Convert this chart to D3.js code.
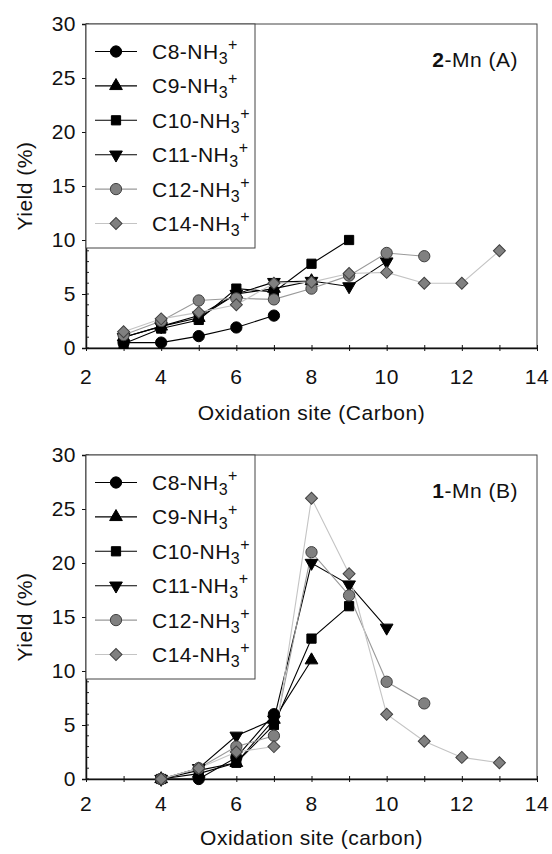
<!DOCTYPE html>
<html>
<head>
<meta charset="utf-8">
<script src="https://cdn.jsdelivr.net/npm/d3@7"></script>
<style>
  html, body { margin: 0; padding: 0; background: #fff; }
  svg { display: block; }
  text { font-family: "Liberation Sans", Arial, sans-serif; fill: #111; letter-spacing: 0.5px; }
</style>
</head>
<body>
<svg id="chart" width="552" height="854"></svg>
<script>
// ---------- data ----------
const seriesNames = ["C8", "C9", "C10", "C11", "C12", "C14"];
const xTicks = [2, 4, 6, 8, 10, 12, 14];
const yTicks = [0, 5, 10, 15, 20, 25, 30];

// Panel A: 2-Mn
const siteA_C8  = [3, 4, 5, 6, 7];
const yieldA_C8 = [0.5, 0.5, 1.1, 1.9, 3.0];
const siteA_C9  = [3, 4, 5, 6, 7, 8];
const yieldA_C9 = [1.0, 2.0, 2.8, 5.0, 5.5, 6.2];
const siteA_C10  = [3, 4, 5, 6, 7, 8, 9];
const yieldA_C10 = [0.4, 1.8, 2.6, 5.5, 5.2, 7.8, 10.0];
const siteA_C11  = [3, 4, 5, 6, 7, 8, 9, 10];
const yieldA_C11 = [1.0, 2.0, 3.0, 5.0, 6.1, 6.2, 5.7, 8.0];
const siteA_C12  = [3, 4, 5, 6, 7, 8, 9, 10, 11];
const yieldA_C12 = [1.2, 2.5, 4.4, 4.6, 4.5, 5.5, 6.7, 8.8, 8.5];
const siteA_C14  = [3, 4, 5, 6, 7, 8, 9, 10, 11, 12, 13];
const yieldA_C14 = [1.5, 2.7, 3.3, 4.0, 6.0, 6.1, 6.9, 7.0, 6.0, 6.0, 9.0];

// Panel B: 1-Mn
const siteB_C8  = [4, 5, 6, 7];
const yieldB_C8 = [0, 0, 2.0, 6.0];
const siteB_C9  = [4, 5, 6, 7, 8];
const yieldB_C9 = [0, 0.5, 1.5, 5.5, 11.0];
const siteB_C10  = [4, 5, 6, 7, 8, 9];
const yieldB_C10 = [0, 0.8, 1.5, 5.0, 13.0, 16.0];
const siteB_C11  = [4, 5, 6, 7, 8, 9, 10];
const yieldB_C11 = [0, 1.0, 4.0, 5.5, 20.0, 18.0, 14.0];
const siteB_C12  = [4, 5, 6, 7, 8, 9, 10, 11];
const yieldB_C12 = [0, 1.0, 3.0, 4.0, 21.0, 17.0, 9.0, 7.0];
const siteB_C14  = [4, 5, 6, 7, 8, 9, 10, 11, 12, 13];
const yieldB_C14 = [0, 1.0, 2.5, 3.0, 26.0, 19.0, 6.0, 3.5, 2.0, 1.5];

// ---------- styles ----------
const styles = {
  C8:  { symbol: d3.symbolCircle,   size: 100, fill: "#000",    stroke: "#000",    line: "#000",    rot: 0 },
  C9:  { symbol: d3.symbolTriangle, size: 70,  fill: "#000",    stroke: "#000",    line: "#000",    rot: 0 },
  C10: { symbol: d3.symbolSquare,   size: 85,  fill: "#000",    stroke: "#000",    line: "#000",    rot: 0 },
  C11: { symbol: d3.symbolTriangle, size: 70,  fill: "#000",    stroke: "#000",    line: "#000",    rot: 180 },
  C12: { symbol: d3.symbolCircle,   size: 100, fill: "#808080", stroke: "#404040", line: "#9a9a9a", rot: 0 },
  C14: { symbol: d3.symbolSquare,   size: 72,  fill: "#808080", stroke: "#404040", line: "#c4c4c4", rot: 45 }
};

const panels = [
  { top: 24, tag: "2", tagRest: "-Mn (A)", xTitle: "Oxidation site (Carbon)", tickBase: 384, titleBase: 420,
    series: { C8: [siteA_C8, yieldA_C8], C9: [siteA_C9, yieldA_C9], C10: [siteA_C10, yieldA_C10],
              C11: [siteA_C11, yieldA_C11], C12: [siteA_C12, yieldA_C12], C14: [siteA_C14, yieldA_C14] } },
  { top: 455, tag: "1", tagRest: "-Mn (B)", xTitle: "Oxidation site (carbon)", tickBase: 811, titleBase: 845,
    series: { C8: [siteB_C8, yieldB_C8], C9: [siteB_C9, yieldB_C9], C10: [siteB_C10, yieldB_C10],
              C11: [siteB_C11, yieldB_C11], C12: [siteB_C12, yieldB_C12], C14: [siteB_C14, yieldB_C14] } }
];

const svg = d3.select("#chart");
const left = 86, right = 537, plotH = 324;
const FS = 21;

panels.forEach(p => {
  const x = d3.scaleLinear().domain([2, 14]).range([left, right]);
  const y = d3.scaleLinear().domain([0, 30]).range([p.top + plotH, p.top]);
  const g = svg.append("g");

  // frame
  g.append("rect").attr("x", left).attr("y", p.top).attr("width", right - left).attr("height", plotH)
    .attr("fill", "none").attr("stroke", "#444").attr("stroke-width", 1);

  // y minor ticks (inside)
  g.selectAll(".ymin").data(d3.range(0, 31)).join("line")
    .attr("x1", left).attr("x2", left + 3)
    .attr("y1", d => y(d)).attr("y2", d => y(d))
    .attr("stroke", "#222").attr("stroke-width", 1);

  // y axis
  const yAxis = d3.axisLeft(y).tickValues(yTicks).tickSize(4).tickPadding(6).tickFormat(d3.format("d"));
  const ya = g.append("g").attr("transform", `translate(${left},0)`).call(yAxis);
  ya.attr("font-family", null).attr("font-size", null);
  ya.select(".domain").attr("stroke", "#111").attr("stroke-width", 1.5);
  ya.selectAll(".tick line").attr("stroke", "#111");
  ya.selectAll(".tick text").attr("font-size", FS).attr("fill", "#111");

  // x axis: ticks every integer, labels on even
  const xAxis = d3.axisBottom(x).tickValues(d3.range(2, 15)).tickSize(3).tickSizeOuter(0).tickFormat(() => "");
  const xa = g.append("g").attr("transform", `translate(0,${p.top + plotH})`).call(xAxis);
  xa.select(".domain").attr("stroke", "#111").attr("stroke-width", 1.5);
  xa.selectAll(".tick line").attr("stroke", "#111").attr("y1", -3);
  g.selectAll(".xlab").data(xTicks).join("text")
    .attr("x", d => x(d)).attr("y", p.tickBase)
    .attr("text-anchor", "middle").attr("font-size", FS).text(d => d);

  // axis titles
  g.append("text").attr("x", (left + right) / 2).attr("y", p.titleBase)
    .attr("text-anchor", "middle").attr("font-size", FS).text(p.xTitle);
  g.append("text").attr("transform", `translate(32,${p.top + plotH / 2}) rotate(-90)`)
    .attr("text-anchor", "middle").attr("font-size", FS).text("Yield (%)");

  // panel tag
  const tag = g.append("text").attr("x", 518).attr("y", p.top + 43).attr("text-anchor", "end").attr("font-size", FS);
  tag.append("tspan").attr("font-weight", "bold").text(p.tag);
  tag.append("tspan").text(p.tagRest);

  // series lines + markers
  const line = d3.line().x(d => x(d[0])).y(d => y(d[1]));
  seriesNames.forEach(name => {
    const [xs, ys] = p.series[name];
    const pts = xs.map((v, i) => [v, ys[i]]);
    const s = styles[name];
    g.append("path").datum(pts).attr("d", line).attr("fill", "none")
      .attr("stroke", s.line).attr("stroke-width", 1.1);
  });
  seriesNames.forEach(name => {
    const [xs, ys] = p.series[name];
    const pts = xs.map((v, i) => [v, ys[i]]);
    const s = styles[name];
    g.selectAll(null).data(pts).join("path")
      .attr("d", d3.symbol().type(s.symbol).size(s.size))
      .attr("transform", d => `translate(${x(d[0])},${y(d[1])}) rotate(${s.rot})`)
      .attr("fill", s.fill).attr("stroke", s.stroke).attr("stroke-width", 1);
  });

  // legend
  const lg = g.append("g");
  lg.append("rect").attr("x", left).attr("y", p.top).attr("width", 169).attr("height", 224)
    .attr("fill", "#fff").attr("stroke", "#444").attr("stroke-width", 1);
  seriesNames.forEach((name, i) => {
    const s = styles[name];
    const cy = p.top + 27.5 + i * 34.4;
    lg.append("line").attr("x1", 95).attr("x2", 137).attr("y1", cy).attr("y2", cy)
      .attr("stroke", s.line).attr("stroke-width", 1.1);
    lg.append("path").attr("d", d3.symbol().type(s.symbol).size(s.size))
      .attr("transform", `translate(116,${cy}) rotate(${s.rot})`)
      .attr("fill", s.fill).attr("stroke", s.stroke).attr("stroke-width", 1);
    const t = lg.append("text").attr("x", 152).attr("y", cy + 7.5).attr("font-size", FS);
    t.append("tspan").text(name + "-NH");
    t.append("tspan").attr("font-size", 16).attr("dy", 5).text("3");
    t.append("tspan").attr("font-size", 16).attr("dy", -14).text("+");
  });
});
</script>
</body>
</html>
